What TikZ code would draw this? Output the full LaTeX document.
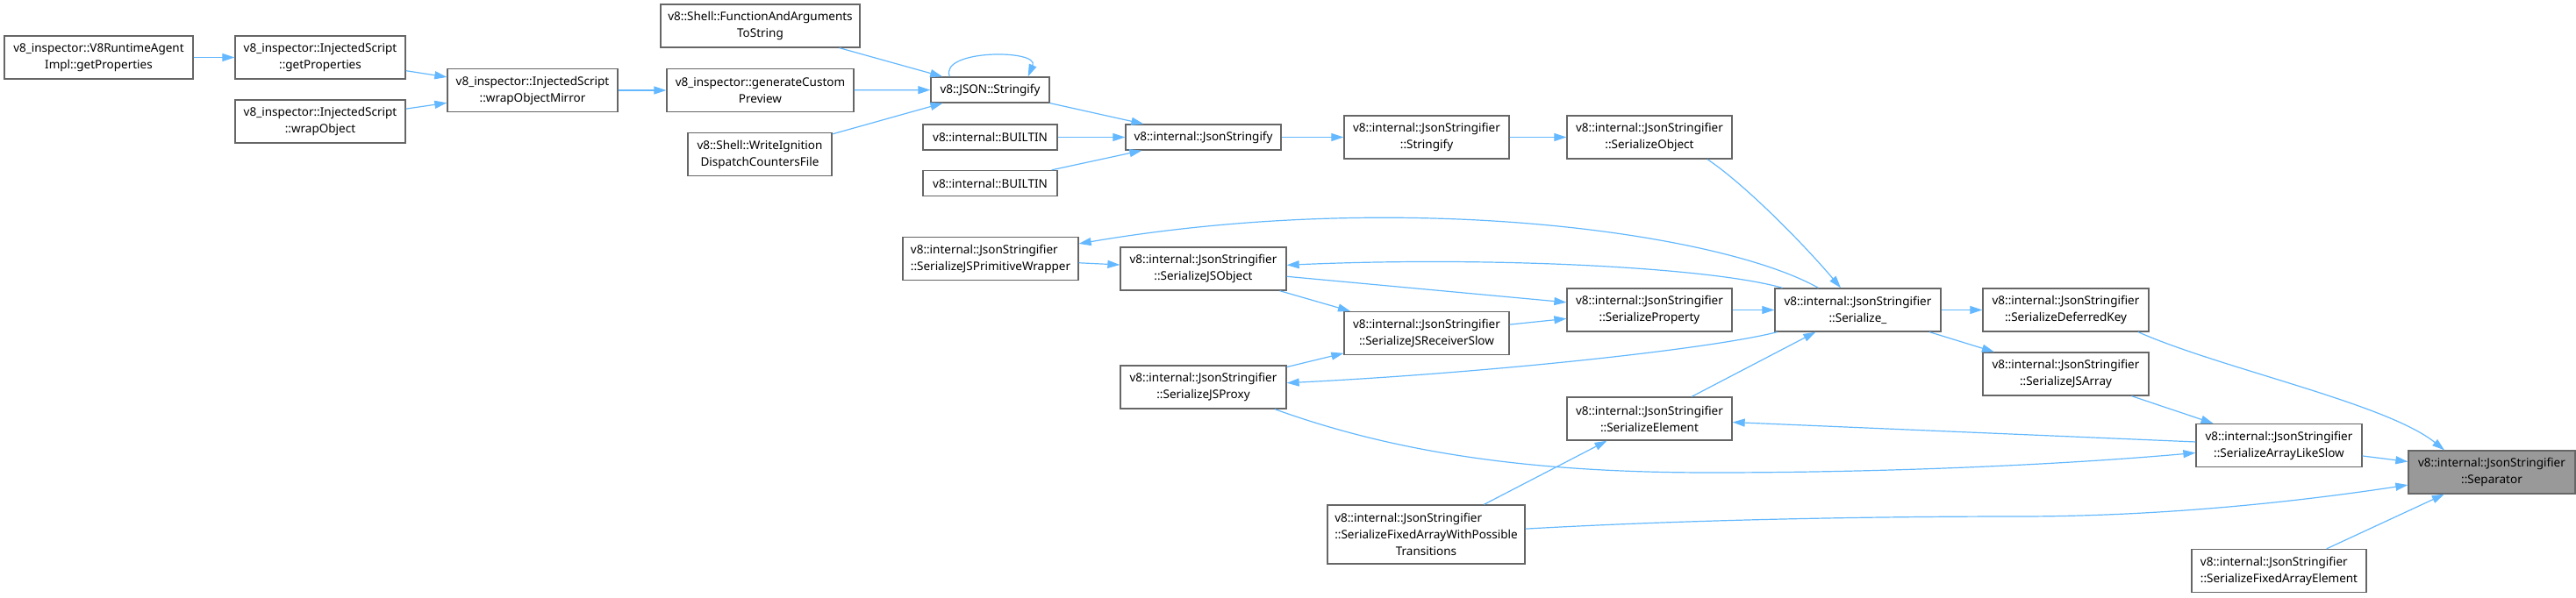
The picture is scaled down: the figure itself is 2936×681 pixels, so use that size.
\documentclass[tikz,border=0pt]{standalone}
\usepackage{fontspec}
\setmainfont{Noto Sans}
\usetikzlibrary{arrows.meta}
\definecolor{edgeblue}{HTML}{63B8FF}
\definecolor{boxborder}{HTML}{666666}
\definecolor{focusfill}{HTML}{999999}
\begin{document}
\begin{tikzpicture}[x=1pt,y=-1pt,
  box/.style={draw=boxborder, line width=1.3pt, fill=white, inner sep=0pt, align=center,
    font=\fontsize{13.5}{19}\selectfont},
  focus/.style={box, fill=focusfill},
  edge/.style={draw=edgeblue, line width=1.2pt, -{Triangle[length=14pt,width=9pt]}}]
\useasboundingbox (0,0) rectangle (2936,681);
% nodes
\node[box, minimum width=215, minimum height=49] (n1) at (112.5,65.5) {v8\_inspector::V8RuntimeAgent\\Impl::getProperties};
\node[box, minimum width=194, minimum height=49] (n2) at (365,65.5) {v8\_inspector::InjectedScript\\::getProperties};
\node[box, minimum width=194, minimum height=49] (n3) at (365,138.5) {v8\_inspector::InjectedScript\\::wrapObject};
\node[box, minimum width=194, minimum height=49] (n4) at (607,103) {v8\_inspector::InjectedScript\\::wrapObjectMirror};
\node[box, minimum width=213, minimum height=49] (n5) at (866.5,103) {v8\_inspector::generateCustom\\Preview};
\node[box, minimum width=227, minimum height=49] (n6) at (866.5,29.5) {v8::Shell::FunctionAndArguments\\ToString};
\node[box, minimum width=164, minimum height=49] (n7) at (866,176) {v8::Shell::WriteIgnition\\DispatchCountersFile};
\node[box, minimum width=135, minimum height=29] (n8) at (1128.5,102.5) {v8::JSON::Stringify};
\node[box, minimum width=153, minimum height=29] (n9) at (1128.5,156.5) {v8::internal::BUILTIN};
\node[box, minimum width=153, minimum height=29] (n10) at (1128.5,209) {v8::internal::BUILTIN};
\node[box, minimum width=177, minimum height=29] (n11) at (1371.5,156.5) {v8::internal::JsonStringify};
\node[box, minimum width=188, minimum height=49] (n12) at (1626,156.5) {v8::internal::JsonStringifier\\::Stringify};
\node[box, minimum width=188, minimum height=49] (n13) at (1880,156.5) {v8::internal::JsonStringifier\\::SerializeObject};
\node[box, minimum width=200, minimum height=49] (n14) at (1129,295) {\rlap{v8::internal::JsonStringifier}\phantom{::SerializeJSPrimitiveWrapper}\\::SerializeJSPrimitiveWrapper};
\node[box, minimum width=189, minimum height=49] (n15) at (1371.5,306.5) {v8::internal::JsonStringifier\\::SerializeJSObject};
\node[box, minimum width=188, minimum height=49] (n16) at (1626,380) {v8::internal::JsonStringifier\\::SerializeJSReceiverSlow};
\node[box, minimum width=188, minimum height=49] (n17) at (1880,353.5) {v8::internal::JsonStringifier\\::SerializeProperty};
\node[box, minimum width=189, minimum height=49] (n18) at (1371.5,441.5) {v8::internal::JsonStringifier\\::SerializeJSProxy};
\node[box, minimum width=188, minimum height=49] (n19) at (1880,477.5) {v8::internal::JsonStringifier\\::SerializeElement};
\node[box, minimum width=225, minimum height=67] (n20) at (1625.5,609.5) {\rlap{v8::internal::JsonStringifier}\phantom{::SerializeFixedArrayWithPossible}\\::SerializeFixedArrayWithPossible\\Transitions};
\node[box, minimum width=189, minimum height=49] (n21) at (2117.5,353.5) {v8::internal::JsonStringifier\\::Serialize\_};
\node[box, minimum width=189, minimum height=49] (n22) at (2354.5,353.5) {v8::internal::JsonStringifier\\::SerializeDeferredKey};
\node[box, minimum width=189, minimum height=49] (n23) at (2354.5,426.5) {v8::internal::JsonStringifier\\::SerializeJSArray};
\node[box, minimum width=189, minimum height=49] (n24) at (2597.5,508) {v8::internal::JsonStringifier\\::SerializeArrayLikeSlow};
\node[focus, minimum width=190, minimum height=49] (n25) at (2840,538.5) {v8::internal::JsonStringifier\\::Separator};
\node[box, minimum width=199, minimum height=49] (n26) at (2597.5,651) {\rlap{v8::internal::JsonStringifier}\phantom{::SerializeFixedArrayElement}\\::SerializeFixedArrayElement};
% straight edges
\draw[edge] (n1) -- (n2);
\draw[edge] (n2) -- (n4);
\draw[edge] (n3) -- (n4);
\draw[edge] (n4) -- (n5);
\draw[edge] (n6) -- (n8);
\draw[edge] (n5) -- (n8);
\draw[edge] (n7) -- (n8);
\draw[edge] ([xshift=22pt]n8.north west) .. controls (1070,56) and (1185,56) .. ([xshift=-25pt]n8.north east);
\draw[edge] (n8) -- (n11);
\draw[edge] (n9) -- (n11);
\draw[edge] (n10) -- (n11);
\draw[edge] (n11) -- (n12);
\draw[edge] (n12) -- (n13);
\draw[edge] ([xshift=66pt]n13.south) .. controls (1991,212) and (2058,281) .. ([xshift=-19.5pt]n21.north);
\draw[edge] ([xshift=-45pt]n21.north) .. controls (1960,265) and (1600,215) .. (n14);
\draw[edge] ([xshift=-86pt]n21.north) .. controls (1950,305) and (1700,292) .. (n15);
\draw[edge] ([xshift=-92pt]n21.south) .. controls (1950,398) and (1700,425) .. (n18);
\draw[edge] (n14) -- (n15);
\draw[edge] (n15) -- (n17);
\draw[edge] (n15) -- (n16);
\draw[edge] (n18) -- (n16);
\draw[edge] (n16) -- (n17);
\draw[edge] (n17) -- (n21);
\draw[edge] (n19) -- (n21);
\draw[edge] (n20) -- (n19);
\draw[edge] (n21) -- (n22);
\draw[edge] (n21) -- (n23);
\draw[edge] ([xshift=82.5pt]n22.south) .. controls (2530,420) and (2720,460) .. ([xshift=-54pt]n25.north);
\draw[edge] (n23) -- (n24);
\draw[edge] (n24) -- (n25);
\draw[edge] (n24) -- (n19);
\draw[edge] ([xshift=81.5pt]n18.south) .. controls (1600,520) and (1760,539) .. (1950,539) .. controls (2150,539) and (2350,530) .. (n24);
\draw[edge] (n20) .. controls (1900,594) and (2100,589) .. (2300,589) .. controls (2450,589) and (2600,575) .. (n25);
\draw[edge] (n26) -- (n25);
\end{tikzpicture}
\end{document}
